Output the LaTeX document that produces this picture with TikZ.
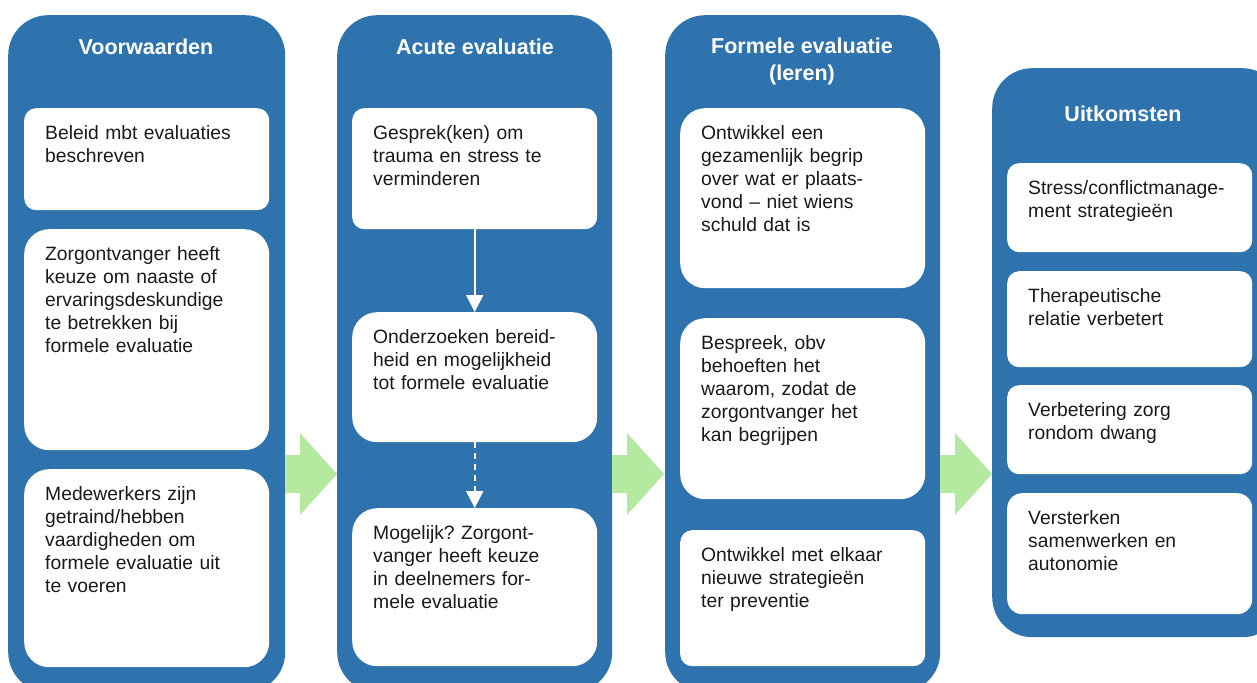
\documentclass[tikz,border=0pt]{standalone}
\usepackage{fontspec}
\setmainfont{Liberation Sans}
\usetikzlibrary{calc,arrows.meta}

\definecolor{kolomblauw}{HTML}{2E73AD}
\definecolor{pijlgroen}{HTML}{B5E9A0}
\definecolor{tekstzwart}{HTML}{1A1A1A}

\tikzset{
  kolom/.style={fill=kolomblauw, rounded corners=40pt, anchor=north west,
    inner sep=0pt, minimum width=#1},
  kaart/.style={fill=white, rounded corners=12pt, anchor=north west,
    inner sep=0pt, minimum width=245pt, minimum height=#1},
  kaartrond/.style={kaart=#1, rounded corners=25pt},
  tekst/.style={anchor=north west, inner sep=0pt, text width=240pt, align=left,
    text=tekstzwart, font=\fontsize{19.3}{23}\selectfont},
  titel/.style={text=white, align=center, font=\bfseries\fontsize{21.5}{27}\selectfont},
  witpijl/.style={white, line width=2pt, -{Triangle[width=17pt,length=17pt]}},
}

\frenchspacing

\begin{document}
\begin{tikzpicture}[x=1pt,y=-1pt]

  \useasboundingbox (0,0) rectangle (1257,682);
  \clip (0,0) rectangle (1257,682);

  % kolommen
  \node[kolom=277pt, minimum height=677pt] (k1) at (8,15) {};
  \node[kolom=275pt, minimum height=677pt] (k2) at (337,15) {};
  \node[kolom=275pt, minimum height=677pt] (k3) at (665,15) {};
  \node[kolom=290pt, minimum height=569pt] (k4) at (992,68) {};

  % groene pijlen tussen de kolommen
  \foreach \x in {285,612,940} {
    \fill[pijlgroen] (\x,455) -- ++(15,0) -- ++(0,-22) -- ++(37,41)
      -- ++(-37,41) -- ++(0,-22) -- ++(-15,0) -- cycle;
  }

  \node[titel] (t1) at (146,47)  {Voorwaarden};
  \node[titel] (t2) at (475,47)  {Acute evaluatie};
  \node[titel] (t3) at (802,61)  {Formele evaluatie\\(leren)};
  \node[titel] (t4) at (1123,114) {Uitkomsten};

  % Voorwaarden
  \node[kaart=102pt]     (v1) at (24,108) {};
  \node[kaartrond=221pt] (v2) at (24,229) {};
  \node[kaartrond=198pt] (v3) at (24,469) {};
  \node[tekst] at ($(v1.north west)+(21,15)$) {\strut Beleid mbt evaluaties\\beschreven};
  \node[tekst] at ($(v2.north west)+(21,15)$) {\strut Zorgontvanger heeft\\keuze om naaste of\\ervaringsdeskundige\\te betrekken bij\\formele evaluatie};
  \node[tekst] at ($(v3.north west)+(21,15)$) {\strut Medewerkers zijn\\getraind/hebben\\vaardigheden om\\formele evaluatie uit\\te voeren};

  % Acute evaluatie
  \node[kaart=121pt]     (a1) at (352,108) {};
  \node[kaartrond=130pt] (a2) at (352,312) {};
  \node[kaartrond=158pt] (a3) at (352,508) {};
  \node[tekst] at ($(a1.north west)+(21,15)$) {\strut Gesprek(ken) om\\trauma en stress te\\verminderen};
  \node[tekst] at ($(a2.north west)+(21,15)$) {\strut Onderzoeken bereid-\\heid en mogelijkheid\\tot formele evaluatie};
  \node[tekst] at ($(a3.north west)+(21,15)$) {\strut Mogelijk? Zorgont-\\vanger heeft keuze\\in deelnemers for-\\mele evaluatie};

  \draw[witpijl] (a1.south) -- (a2.north);
  \draw[witpijl, dash pattern=on 6pt off 5pt] (a2.south) -- (a3.north);

  % Formele evaluatie
  \node[kaartrond=180pt] (f1) at (680,108) {};
  \node[kaartrond=181pt] (f2) at (680,318) {};
  \node[kaart=136pt]     (f3) at (680,530) {};
  \node[tekst] at ($(f1.north west)+(21,15)$) {\strut Ontwikkel een\\gezamenlijk begrip\\over wat er plaats-\\vond – niet wiens\\schuld dat is};
  \node[tekst] at ($(f2.north west)+(21,15)$) {\strut Bespreek, obv\\behoeften het\\waarom, zodat de\\zorgontvanger het\\kan begrijpen};
  \node[tekst] at ($(f3.north west)+(21,15)$) {\strut Ontwikkel met elkaar\\nieuwe strategieën\\ter preventie};

  % Uitkomsten
  \node[kaart=89pt]  (u1) at (1007,163) {};
  \node[kaart=96pt]  (u2) at (1007,271) {};
  \node[kaart=89pt]  (u3) at (1007,385) {};
  \node[kaart=121pt, rounded corners=15pt] (u4) at (1007,493) {};
  \node[tekst] at ($(u1.north west)+(21,15)$) {\strut Stress/conflictmanage-\\ment strategieën};
  \node[tekst] at ($(u2.north west)+(21,15)$) {\strut Therapeutische\\relatie verbetert};
  \node[tekst] at ($(u3.north west)+(21,15)$) {\strut Verbetering zorg\\rondom dwang};
  \node[tekst] at ($(u4.north west)+(21,15)$) {\strut Versterken\\samenwerken en\\autonomie};

\end{tikzpicture}
\end{document}
